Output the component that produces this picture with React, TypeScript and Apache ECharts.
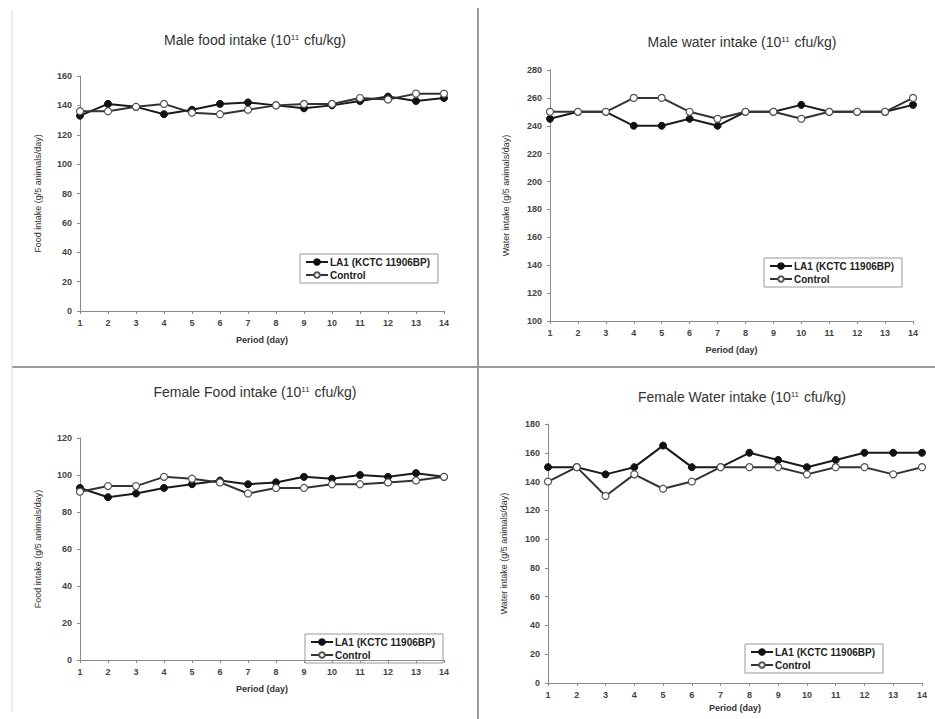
import React, { useEffect, useRef } from "react";
import * as echarts from "echarts";

const days = ["1", "2", "3", "4", "5", "6", "7", "8", "9", "10", "11", "12", "13", "14"];
const maleFoodLA1 = [133, 141, 139, 134, 137, 141, 142, 140, 138, 140, 143, 146, 143, 145];
const maleFoodCtrl = [136, 136, 139, 141, 135, 134, 137, 140, 141, 141, 145, 144, 148, 148];
const maleWaterLA1 = [245, 250, 250, 240, 240, 245, 240, 250, 250, 255, 250, 250, 250, 255];
const maleWaterCtrl = [250, 250, 250, 260, 260, 250, 245, 250, 250, 245, 250, 250, 250, 260];
const femaleFoodLA1 = [93, 88, 90, 93, 95, 97, 95, 96, 99, 98, 100, 99, 101, 99];
const femaleFoodCtrl = [91, 94, 94, 99, 98, 96, 90, 93, 93, 95, 95, 96, 97, 99];
const femaleWaterLA1 = [150, 150, 145, 150, 165, 150, 150, 160, 155, 150, 155, 160, 160, 160];
const femaleWaterCtrl = [140, 150, 130, 145, 135, 140, 150, 150, 150, 145, 150, 150, 145, 150];

const LA1 = "LA1 (KCTC 11906BP)";
const CTRL = "Control";
const FONT = "Liberation Sans, Arial, sans-serif";

type Panel = {
  title: string;
  tx: number;
  ty: number;
  grid: { left: number; right: number; top: number; bottom: number };
  yMin: number;
  yMax: number;
  yName: string;
  yGap: number;
  xGap: number;
  legend: { left: number; top: number };
  la1: number[];
  ctrl: number[];
};

const panels: Panel[] = [
  {
    title: "Male food intake (10{s|11} cfu/kg)",
    tx: 255, ty: 40,
    grid: { left: 80, right: 491, top: 76, bottom: 408 },
    yMin: 0, yMax: 160, yName: "Food intake (g/5 animals/day)", yGap: 38, xGap: 24,
    legend: { left: 300, top: 254 },
    la1: maleFoodLA1, ctrl: maleFoodCtrl,
  },
  {
    title: "Male water intake (10{s|11} cfu/kg)",
    tx: 742, ty: 42,
    grid: { left: 550, right: 22, top: 70, bottom: 398 },
    yMin: 100, yMax: 280, yName: "Water intake (g/5 animals/day)", yGap: 40, xGap: 24,
    legend: { left: 764, top: 258 },
    la1: maleWaterLA1, ctrl: maleWaterCtrl,
  },
  {
    title: "Female Food intake (10{s|11} cfu/kg)",
    tx: 255, ty: 392,
    grid: { left: 80, right: 491, top: 438, bottom: 59 },
    yMin: 0, yMax: 120, yName: "Food intake (g/5 animals/day)", yGap: 38, xGap: 24,
    legend: { left: 305, top: 634 },
    la1: femaleFoodLA1, ctrl: femaleFoodCtrl,
  },
  {
    title: "Female Water intake (10{s|11} cfu/kg)",
    tx: 742, ty: 397,
    grid: { left: 548, right: 13, top: 424, bottom: 36 },
    yMin: 0, yMax: 180, yName: "Water intake (g/5 animals/day)", yGap: 40, xGap: 20,
    legend: { left: 745, top: 644 },
    la1: femaleWaterLA1, ctrl: femaleWaterCtrl,
  },
];

export default function App() {
  const ref = useRef<HTMLDivElement>(null);
  useEffect(() => {
    if (!ref.current) return;
    const chart = echarts.init(ref.current, null, { renderer: "svg" });
    const axisLine = { lineStyle: { color: "#8a8a8a", width: 1 } };
    const tickLabel = { fontSize: 9, color: "#444", fontFamily: FONT, fontWeight: "bold" as const };

    const grid = panels.map((p) => ({ ...p.grid }));
    const xAxis = panels.map((p, i) => ({
      type: "category",
      gridIndex: i,
      data: days,
      boundaryGap: false,
      axisLine,
      axisTick: { show: true, length: 3, lineStyle: { color: "#8a8a8a" } },
      axisLabel: { ...tickLabel, margin: 7 },
      splitLine: { show: false },
      name: "Period (day)",
      nameLocation: "middle",
      nameGap: p.xGap,
      nameTextStyle: { fontSize: 9, color: "#333", fontFamily: FONT, fontWeight: "bold" },
    }));
    const yAxis = panels.map((p, i) => ({
      type: "value",
      gridIndex: i,
      min: p.yMin,
      max: p.yMax,
      interval: 20,
      axisLine: { show: true, ...axisLine },
      axisTick: { show: true, length: 3, lineStyle: { color: "#8a8a8a" } },
      axisLabel: { ...tickLabel, margin: 8 },
      splitLine: { show: false },
      name: p.yName,
      nameLocation: "middle",
      nameRotate: 90,
      nameGap: p.yGap,
      nameTextStyle: { fontSize: 9, color: "#333", fontFamily: FONT },
    }));
    const series: any[] = [];
    panels.forEach((p, i) => {
      series.push({
        type: "line",
        name: LA1,
        xAxisIndex: i,
        yAxisIndex: i,
        data: p.la1,
        symbol: "circle",
        symbolSize: 7,
        lineStyle: { color: "#1a1a1a", width: 2 },
        itemStyle: { color: "#111", borderColor: "#111", borderWidth: 1 },
        z: 3,
      });
      series.push({
        type: "line",
        name: CTRL,
        xAxisIndex: i,
        yAxisIndex: i,
        data: p.ctrl,
        symbol: "circle",
        symbolSize: 7,
        lineStyle: { color: "#333", width: 2 },
        itemStyle: { color: "#fff", borderColor: "#555", borderWidth: 1.2 },
        z: 4,
      });
    });
    const legend = panels.map((p) => ({
      left: p.legend.left,
      top: p.legend.top,
      orient: "vertical",
      data: [LA1, CTRL],
      borderColor: "#999",
      borderWidth: 1,
      padding: [3, 8, 3, 5],
      itemGap: 3,
      itemWidth: 22,
      itemHeight: 7,
      selectedMode: false,
      textStyle: { fontSize: 10, color: "#222", fontFamily: FONT, fontWeight: "bold", padding: [0, 0, 0, -3] },
    }));
    const titles = panels.map((p) => ({
      type: "text",
      x: p.tx,
      y: p.ty,
      style: {
        text: p.title,
        fontSize: 14,
        fontFamily: FONT,
        fill: "#333",
        textAlign: "center",
        textVerticalAlign: "middle",
        rich: { s: { fontSize: 8, verticalAlign: "top", fill: "#333", fontFamily: FONT, padding: [0, 1, 6, 0] } },
      },
    }));
    const dividers = [
      { type: "line", shape: { x1: 478, y1: 8, x2: 478, y2: 719 }, style: { stroke: "#9a9a9a", lineWidth: 2 } },
      { type: "line", shape: { x1: 12, y1: 367, x2: 935, y2: 367 }, style: { stroke: "#9a9a9a", lineWidth: 2 } },
      { type: "line", shape: { x1: 12, y1: 10, x2: 12, y2: 712 }, style: { stroke: "#d8d8d8", lineWidth: 1 } },
    ];
    chart.setOption({
      animation: false,
      backgroundColor: "#fff",
      grid,
      xAxis,
      yAxis,
      series,
      legend,
      graphic: [...dividers, ...titles],
    } as any);
    return () => chart.dispose();
  }, []);
  return <div ref={ref} style={{ position: "fixed", left: 0, top: 0, width: 935, height: 719 }} />;
}
